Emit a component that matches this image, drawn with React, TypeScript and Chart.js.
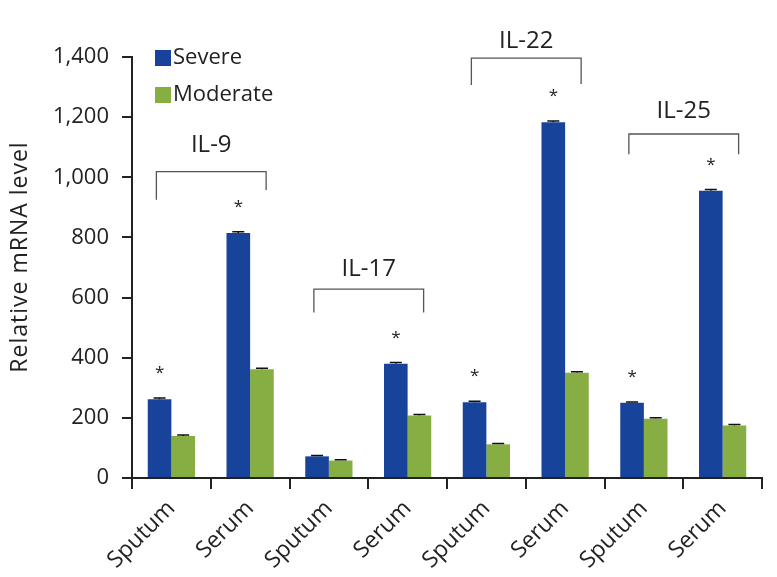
import React, { useEffect, useRef } from "react";
import { Chart, registerables } from "chart.js";

Chart.register(...registerables);

const categories = ["Sputum", "Serum", "Sputum", "Serum", "Sputum", "Serum", "Sputum", "Serum"];
const seriesNames = ["Severe", "Moderate"];
const severeValues = [262, 815, 72, 380, 252, 1183, 250, 955];
const moderateValues = [140, 362, 58, 208, 112, 350, 197, 175];
const severeErrors = [4, 4, 3, 4, 3, 4, 3, 4];
const moderateErrors = [3, 3, 3, 3, 3, 3, 3, 3];
const significant = [true, true, false, true, true, true, true, true];
const groupLabels = ["IL-9", "IL-17", "IL-22", "IL-25"];
const groupStartIndex = [0, 2, 4, 6];
const bracketTopValues = [1019, 628, 1396, 1144];
const bracketLeftLegValues = [925, 550, 1307, 1077];
const bracketRightLegValues = [958, 550, 1310, 1077];
const groupLabelValues = [1107, 695, 1452, 1220];
const yMax = 1400;
const yStep = 200;
const yTitle = "Relative mRNA level";

const BLUE = "#17449a";
const GREEN = "#86ae42";
const TEXT = "#222222";
const FONT = "'Open Sans', sans-serif";

const overlayPlugin = {
  id: "overlay",
  afterDatasetsDraw(chart: any) {
    const ctx = chart.ctx;
    const x = chart.scales.x;
    const y = chart.scales.y;
    ctx.save();

    // error caps
    const errs = [severeErrors, moderateErrors];
    const vals = [severeValues, moderateValues];
    [0, 1].forEach((d) => {
      const meta = chart.getDatasetMeta(d);
      meta.data.forEach((bar: any, i: number) => {
        const top = y.getPixelForValue(vals[d][i] + errs[d][i]);
        const base = y.getPixelForValue(vals[d][i]);
        ctx.strokeStyle = "#111";
        ctx.lineWidth = 1.5;
        ctx.beginPath();
        ctx.moveTo(bar.x, base);
        ctx.lineTo(bar.x, top);
        ctx.moveTo(bar.x - 6, top);
        ctx.lineTo(bar.x + 6, top);
        ctx.stroke();
      });
    });

    // asterisks
    const sevMeta = chart.getDatasetMeta(0);
    ctx.fillStyle = TEXT;
    ctx.font = `17px ${FONT}`;
    ctx.textAlign = "center";
    ctx.textBaseline = "alphabetic";
    significant.forEach((s, i) => {
      if (!s) return;
      const bar: any = sevMeta.data[i];
      const top = y.getPixelForValue(severeValues[i]);
      ctx.fillText("*", bar.x, top - 21);
    });

    // brackets
    ctx.strokeStyle = "#555";
    ctx.lineWidth = 1.3;
    groupLabels.forEach((lab, g) => {
      const i0 = groupStartIndex[g];
      const xl = x.getPixelForValue(i0) - 15;
      const xr = x.getPixelForValue(i0 + 1) + 16;
      const yt = y.getPixelForValue(bracketTopValues[g]);
      const yl = y.getPixelForValue(bracketLeftLegValues[g]);
      const yr = y.getPixelForValue(bracketRightLegValues[g]);
      ctx.beginPath();
      ctx.moveTo(xl, yl);
      ctx.lineTo(xl, yt);
      ctx.lineTo(xr, yt);
      ctx.lineTo(xr, yr);
      ctx.stroke();
      ctx.fillStyle = TEXT;
      ctx.font = `24px ${FONT}`;
      ctx.textAlign = "center";
      ctx.textBaseline = "middle";
      ctx.fillText(lab, (xl + xr) / 2, y.getPixelForValue(groupLabelValues[g]));
    });

    // legend
    const colors = [BLUE, GREEN];
    const legY = [58, 95];
    seriesNames.forEach((n, k) => {
      ctx.fillStyle = colors[k];
      ctx.fillRect(155, legY[k] - 8, 16, 16);
      ctx.fillStyle = TEXT;
      ctx.font = `22px ${FONT}`;
      ctx.textAlign = "left";
      ctx.textBaseline = "middle";
      ctx.fillText(n, 173, legY[k]);
    });

    // y title
    ctx.save();
    ctx.translate(20, 257);
    ctx.rotate(-Math.PI / 2);
    ctx.fillStyle = TEXT;
    ctx.font = `23px ${FONT}`;
    try {
      (ctx as any).letterSpacing = "1px";
    } catch (e) {}
    ctx.textAlign = "center";
    ctx.textBaseline = "middle";
    ctx.fillText(yTitle, 0, 0);
    ctx.restore();

    ctx.restore();
  },
};

export default function App() {
  const ref = useRef<HTMLCanvasElement | null>(null);
  useEffect(() => {
    if (!ref.current) return;
    const chart = new Chart(ref.current, {
      type: "bar",
      data: {
        labels: categories,
        datasets: [
          { label: seriesNames[0], data: severeValues, backgroundColor: BLUE },
          { label: seriesNames[1], data: moderateValues, backgroundColor: GREEN },
        ],
      },
      options: {
        animation: false,
        responsive: true,
        maintainAspectRatio: false,
        layout: { padding: { left: 0, top: 57, right: 15, bottom: 0 } },
        datasets: { bar: { categoryPercentage: 0.6, barPercentage: 1.0 } },
        plugins: { legend: { display: false }, tooltip: { enabled: false } },
        scales: {
          x: {
            grid: {
              display: true,
              drawOnChartArea: false,
              drawTicks: true,
              tickLength: 11,
              color: "#222",
              lineWidth: 2,
              offset: true,
            },
            border: { display: true, color: "#222", width: 2 },
            ticks: {
              color: TEXT,
              font: { family: "'Open Sans', sans-serif", size: 23 },
              maxRotation: 45,
              minRotation: 45,
              autoSkip: false,
              padding: 6,
            },
            afterFit: (s: any) => {
              s.height = 99;
            },
          },
          y: {
            min: 0,
            max: yMax,
            grid: {
              display: true,
              drawOnChartArea: false,
              drawTicks: true,
              tickLength: 10,
              color: "#222",
              lineWidth: 2,
            },
            border: { display: true, color: "#222", width: 2 },
            ticks: {
              stepSize: yStep,
              color: TEXT,
              font: { family: "'Open Sans', sans-serif", size: 22 },
              padding: 13,
              callback: (v: any) => Number(v).toLocaleString("en-US"),
            },
            afterFit: (s: any) => {
              s.width = 132;
            },
          },
        },
      },
      plugins: [overlayPlugin],
    });
    return () => chart.destroy();
  }, []);
  return (
    <div style={{ position: "absolute", left: 0, top: 0, width: 777, height: 577, background: "#fff" }}>
      <canvas ref={ref} />
    </div>
  );
}
